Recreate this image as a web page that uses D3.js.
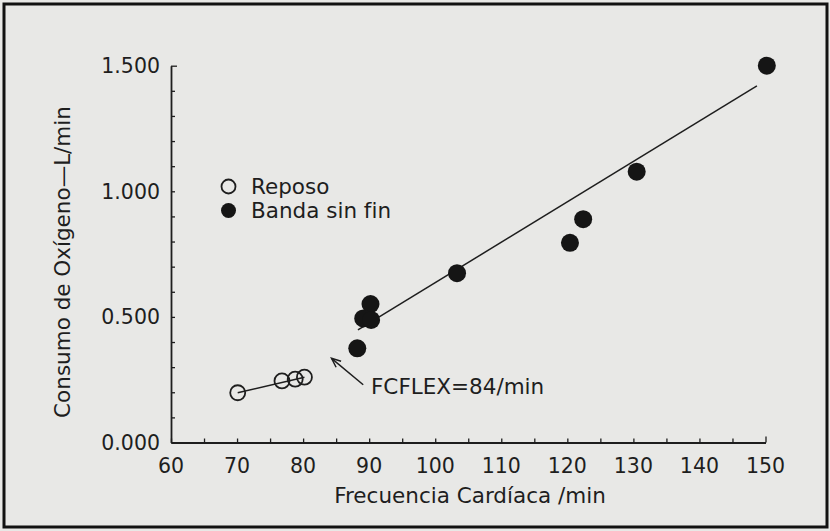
<!DOCTYPE html>
<html lang="es">
<head>
<meta charset="UTF-8">
<title>Consumo de Oxígeno</title>
<script src="https://cdn.jsdelivr.net/npm/d3@7"></script>
<style>
    body { margin: 0; background: #e8e8e6; }
    svg { display: block; }
    text { font-family: "DejaVu Sans", sans-serif; fill: #1e1e1e; }
    .tick-label { font-size: 20.5px; }
    .title { font-size: 21.5px; }
</style>
</head>
<body>
<script>
    // valores
    const reposoFC = [70.1, 76.8, 78.8, 80.2]
    const reposoVO2 = [0.198, 0.245, 0.252, 0.260]
    const bandaFC = [150.2, 130.5, 122.4, 120.4, 103.3, 90.2, 89.1, 90.3, 88.2]
    const bandaVO2 = [1.500, 1.078, 0.889, 0.795, 0.674, 0.551, 0.494, 0.488, 0.375]
    // rectas de ajuste (extremos leidos)
    const reposoFit = [[70.1, 0.198], [80.2, 0.260]]
    const bandaFit = [[88.3, 0.448], [148.7, 1.420]]
    const xTicks = [60, 70, 80, 90, 100, 110, 120, 130, 140, 150]
    const yTicks = [0, 0.5, 1.0, 1.5]
    const fcflex = 84.3

    const width = 830, height = 531
    const svg = d3.select('body').append('svg')
        .attr('width', width)
        .attr('height', height)

    // marco
    svg.append('rect')
        .attr('x', 4).attr('y', 4)
        .attr('width', 823).attr('height', 523)
        .attr('fill', 'none')
        .attr('stroke', '#111')
        .attr('stroke-width', 3)

    const x = d3.scaleLinear().domain([60, 150]).range([171, 765.5])
    const y = d3.scaleLinear().domain([0, 1.5]).range([442.5, 65.7])

    const ink = '#1e1e1e'

    // ejes con marcas hacia dentro
    const xAxis = d3.axisBottom(x)
        .tickValues(d3.range(60, 151, 5))
        .tickSizeInner(-4)
        .tickSizeOuter(0)
        .tickFormat('')
    const gx = svg.append('g')
        .attr('transform', `translate(0,${y(0)})`)
        .call(xAxis)
    gx.select('.domain').attr('stroke', ink).attr('stroke-width', 1.8)
    gx.selectAll('.tick line').attr('stroke', ink).attr('stroke-width', 1.3)
    gx.selectAll('.tick line').filter(d => d === 150).attr('y2', -6)

    const yAxis = d3.axisLeft(y)
        .tickValues(d3.range(0, 16).map(i => i / 10))
        .tickSizeInner(-4)
        .tickSizeOuter(0)
        .tickFormat('')
    const gy = svg.append('g')
        .attr('transform', `translate(${x(60)},0)`)
        .call(yAxis)
    gy.select('.domain').attr('stroke', ink).attr('stroke-width', 1.8)
    gy.selectAll('.tick line').attr('stroke', ink).attr('stroke-width', 1.3)
    gy.selectAll('.tick line').filter(d => Math.abs(d - 1.5) < 1e-9).attr('x2', 6)

    // etiquetas de marcas
    svg.selectAll('.xlab')
        .data(xTicks)
        .enter()
        .append('text')
        .attr('class', 'tick-label')
        .attr('x', d => x(d))
        .attr('y', 473)
        .attr('text-anchor', 'middle')
        .text(d => d)

    svg.selectAll('.ylab')
        .data(yTicks)
        .enter()
        .append('text')
        .attr('class', 'tick-label')
        .attr('x', 160)
        .attr('y', d => y(d) + 7.5)
        .attr('text-anchor', 'end')
        .text(d => d3.format('.3f')(d))

    // titulos
    svg.append('text')
        .attr('class', 'title')
        .attr('x', 470)
        .attr('y', 503)
        .attr('text-anchor', 'middle')
        .text('Frecuencia Cardíaca /min')

    svg.append('text')
        .attr('class', 'title')
        .attr('transform', 'translate(70,262) rotate(-90)')
        .attr('text-anchor', 'middle')
        .text('Consumo de Oxígeno—L/min')

    // rectas
    const line = d3.line().x(d => x(d[0])).y(d => y(d[1]))
    svg.append('path')
        .attr('d', line(bandaFit))
        .attr('fill', 'none')
        .attr('stroke', ink)
        .attr('stroke-width', 1.5)
    svg.append('path')
        .attr('d', line(reposoFit))
        .attr('fill', 'none')
        .attr('stroke', ink)
        .attr('stroke-width', 1.5)

    // puntos
    svg.selectAll('.banda')
        .data(bandaFC)
        .enter()
        .append('circle')
        .attr('cx', d => x(d))
        .attr('cy', (d, i) => y(bandaVO2[i]))
        .attr('r', 9)
        .attr('fill', '#151515')

    svg.selectAll('.reposo')
        .data(reposoFC)
        .enter()
        .append('circle')
        .attr('cx', d => x(d))
        .attr('cy', (d, i) => y(reposoVO2[i]))
        .attr('r', 7.5)
        .attr('fill', 'none')
        .attr('stroke', ink)
        .attr('stroke-width', 1.8)

    // flecha FCFLEX
    const tip = [x(fcflex), y(0.335)]
    const tail = [x(89.1), y(0.23)]
    svg.append('line')
        .attr('x1', tail[0]).attr('y1', tail[1])
        .attr('x2', tip[0]).attr('y2', tip[1])
        .attr('stroke', ink)
        .attr('stroke-width', 1.5)
    const ang = Math.atan2(tail[1] - tip[1], tail[0] - tip[0])
    const ah = 10
    svg.append('path')
        .attr('d', `M${tip[0] + ah * Math.cos(ang - 0.4)},${tip[1] + ah * Math.sin(ang - 0.4)}L${tip[0]},${tip[1]}L${tip[0] + ah * Math.cos(ang + 0.4)},${tip[1] + ah * Math.sin(ang + 0.4)}`)
        .attr('fill', 'none')
        .attr('stroke', ink)
        .attr('stroke-width', 1.5)

    svg.append('text')
        .attr('class', 'title')
        .attr('x', 371)
        .attr('y', 394)
        .style('font-size', '21.5px')
        .text('FCFLEX=' + Math.round(fcflex) + '/min')

    // leyenda
    const legend = svg.append('g')
    legend.append('circle')
        .attr('cx', 228.5).attr('cy', 186.5).attr('r', 7)
        .attr('fill', 'none').attr('stroke', ink).attr('stroke-width', 1.8)
    legend.append('circle')
        .attr('cx', 228.5).attr('cy', 210.5).attr('r', 7.5)
        .attr('fill', '#151515')
    legend.append('text')
        .attr('class', 'title').attr('x', 251).attr('y', 194)
        .text('Reposo')
    legend.append('text')
        .attr('class', 'title').attr('x', 251).attr('y', 218)
        .text('Banda sin fin')
</script>
</body>
</html>
